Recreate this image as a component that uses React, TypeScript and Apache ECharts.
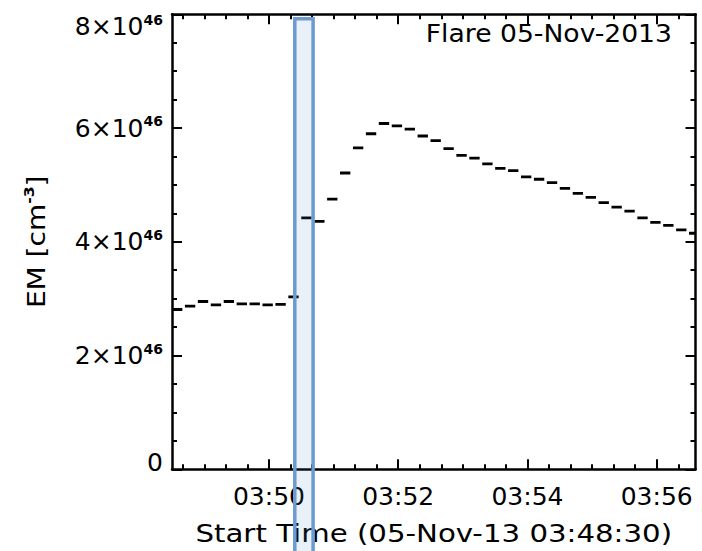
import React, { useEffect, useRef } from "react";
import * as echarts from "echarts";

// ---- data (EM in units of 1e46 cm^-3), one value per 12 s time bin ----
const binStartTimes = [
  "03:48:30", "03:48:42", "03:48:54", "03:49:06", "03:49:18", "03:49:30", "03:49:42", "03:49:54", "03:50:06", "03:50:18",
  "03:50:30", "03:50:42", "03:50:54", "03:51:06", "03:51:18", "03:51:30", "03:51:42", "03:51:54", "03:52:06", "03:52:18",
  "03:52:30", "03:52:42", "03:52:54", "03:53:06", "03:53:18", "03:53:30", "03:53:42", "03:53:54", "03:54:06", "03:54:18",
  "03:54:30", "03:54:42", "03:54:54", "03:55:06", "03:55:18", "03:55:30", "03:55:42", "03:55:54", "03:56:06", "03:56:18",
  "03:56:30",
];
const emValues = [
  2.81, 2.87, 2.95, 2.89, 2.95, 2.91, 2.91, 2.89, 2.90, 3.03,
  4.42, 4.36, 4.75, 5.21, 5.65, 5.90, 6.08, 6.04, 5.98, 5.86,
  5.78, 5.64, 5.52, 5.47, 5.37, 5.29, 5.25, 5.14, 5.10, 5.04,
  4.94, 4.85, 4.78, 4.69, 4.61, 4.54, 4.42, 4.34, 4.29, 4.21,
  4.15,
];
const xRange = ["03:48:30", "03:56:36"];
const xMajorTickLabels = ["03:50", "03:52", "03:54", "03:56"];
const yTickValues = [0, 2, 4, 6, 8];
const yExponent = "46";
const highlightRange = ["03:50:24", "03:50:41"];
const highlightTop = 7.92;
const titleText = "Flare 05-Nov-2013";
const xAxisName = "Start Time (05-Nov-13 03:48:30)";
const yAxisNameRich = "{b|EM [cm}{s|-3}{b|]}";

// ---- helpers / styles ----
const FONT = "DejaVu Sans";
const FS = 25;
const BIN_SEC = 12;
const DASH_SEC = BIN_SEC * 0.8;
const MINOR_STEP = 20;
const W = 702;
const H = 551;
const GRID = { left: 172, right: 6.5, top: 14.3, bottom: 81.7 };

const toSec = (s: string) => {
  const [h, m, sec = "0"] = s.split(":");
  return Number(h) * 3600 + Number(m) * 60 + Number(sec);
};
const pad2 = (n: number) => String(n).padStart(2, "0");
const fmtHM = (v: number) => `${pad2(Math.floor(v / 3600))}:${pad2(Math.floor((v % 3600) / 60))}`;

export default function App() {
  const ref = useRef<HTMLDivElement>(null);

  useEffect(() => {
    if (!ref.current) return;
    const chart = echarts.init(ref.current, undefined, { renderer: "svg" });

    const xMin = toSec(xRange[0]);
    const xMax = toSec(xRange[1]);
    const majors = xMajorTickLabels.map(toSec);
    const minors: number[] = [];
    for (let t = Math.ceil(xMin / MINOR_STEP) * MINOR_STEP; t <= xMax; t += MINOR_STEP) {
      if (!majors.includes(t)) minors.push(t);
    }
    const points = binStartTimes.map((t, i) => [toSec(t), emValues[i]]);

    const lineStyle = { color: "#000", width: 2.5 };
    const tickStyle = { color: "#000", width: 2 };

    const xBase = (position: "top" | "bottom") => ({
      type: "value" as const,
      position,
      min: xMin,
      max: xMax,
      splitLine: { show: false },
    });

    const bRich = { fontSize: FS, lineHeight: 28, fontFamily: FONT, color: "#000" };
    const sRich = { fontSize: 14, lineHeight: 14, fontWeight: "bold" as const, verticalAlign: "top" as const, fontFamily: FONT, color: "#000" };

    const plotCenterX = GRID.left + (W - GRID.left - GRID.right) / 2;
    const plotCenterY = GRID.top + (H - GRID.top - GRID.bottom) / 2;

    chart.setOption({
      animation: false,
      backgroundColor: "#fff",
      grid: { ...GRID, containLabel: false, outerBoundsMode: "none" },
      graphic: [
        {
          type: "text",
          x: W - 30,
          y: 33,
          scaleX: 1.065,
          style: { text: titleText, fontSize: FS, fontFamily: FONT, fill: "#000", align: "right", verticalAlign: "middle" },
        },
        {
          type: "text",
          x: plotCenterX,
          y: 533,
          scaleX: 1.17,
          style: { text: xAxisName, fontSize: FS, fontFamily: FONT, fill: "#000", align: "center", verticalAlign: "middle" },
        },
        {
          type: "text",
          x: 36,
          y: plotCenterY,
          rotation: Math.PI / 2,
          scaleX: 1.12,
          style: {
            text: yAxisNameRich,
            align: "center",
            verticalAlign: "middle",
            rich: {
              b: { fontSize: FS, lineHeight: 28, fontFamily: FONT, fill: "#000" },
              s: { fontSize: 14, lineHeight: 14, fontWeight: "bold", verticalAlign: "top", fontFamily: FONT, fill: "#000" },
            },
          },
        },
      ],
      xAxis: [
        {
          ...xBase("bottom"),
          axisLine: { show: true, onZero: false, lineStyle },
          axisTick: { show: true, inside: true, length: 10, customValues: majors, lineStyle: tickStyle },
          axisLabel: {
            show: true,
            customValues: majors,
            formatter: (v: number) => fmtHM(v),
            fontSize: FS,
            fontFamily: FONT,
            color: "#000",
            margin: 15,
          },
        },
        {
          ...xBase("bottom"),
          axisLine: { show: false, onZero: false },
          axisTick: { show: true, inside: true, length: 5, customValues: minors, lineStyle: tickStyle },
          axisLabel: { show: false },
        },
        {
          ...xBase("top"),
          axisLine: { show: true, onZero: false, lineStyle },
          axisTick: { show: true, inside: true, length: 10, customValues: majors, lineStyle: tickStyle },
          axisLabel: { show: false },
        },
        {
          ...xBase("top"),
          axisLine: { show: false, onZero: false },
          axisTick: { show: true, inside: true, length: 5, customValues: minors, lineStyle: tickStyle },
          axisLabel: { show: false },
        },
      ],
      yAxis: [
        {
          type: "value",
          position: "left",
          min: yTickValues[0],
          max: yTickValues[yTickValues.length - 1],
          interval: yTickValues[1] - yTickValues[0],
          axisLine: { show: true, onZero: false, lineStyle },
          axisTick: { show: true, inside: true, length: 10, lineStyle: tickStyle },
          minorTick: { show: true, splitNumber: 4, length: 5, lineStyle: tickStyle },
          splitLine: { show: false },
          minorSplitLine: { show: false },
          axisLabel: {
            show: true,
            showMinLabel: true,
            showMaxLabel: true,
            margin: 9,
            formatter: (v: number) => {
              if (v === 0) return "{z|0}";
              if (v === yTickValues[yTickValues.length - 1]) return `{g| }\n{b|${v}×10}{s|${yExponent}}`;
              return `{b|${v}×10}{s|${yExponent}}`;
            },
            rich: {
              b: bRich,
              s: sRich,
              g: { fontSize: 10, lineHeight: 25 },
              z: { ...bRich, padding: [0, 0, 14, 0] },
            },
          },
        },
        {
          type: "value",
          position: "right",
          min: yTickValues[0],
          max: yTickValues[yTickValues.length - 1],
          interval: yTickValues[1] - yTickValues[0],
          axisLine: { show: true, onZero: false, lineStyle },
          axisTick: { show: true, inside: true, length: 10, lineStyle: tickStyle },
          minorTick: { show: true, splitNumber: 4, length: 5, lineStyle: tickStyle },
          splitLine: { show: false },
          minorSplitLine: { show: false },
          axisLabel: { show: false },
        },
      ],
      series: [
        {
          type: "custom",
          name: "EM",
          xAxisIndex: 0,
          yAxisIndex: 0,
          clip: true,
          z: 3,
          encode: { x: 0, y: 1 },
          data: points,
          renderItem: (_params: any, api: any) => {
            const t = api.value(0);
            const v = api.value(1);
            const p0 = api.coord([t, v]);
            const p1 = api.coord([t + DASH_SEC, v]);
            return {
              type: "line",
              shape: { x1: p0[0], y1: p0[1], x2: p1[0], y2: p1[1] },
              style: { stroke: "#000", lineWidth: 2.8 },
            };
          },
        },
        {
          type: "custom",
          name: "interval",
          xAxisIndex: 0,
          yAxisIndex: 0,
          clip: false,
          silent: true,
          z: 10,
          data: [[toSec(highlightRange[0]), toSec(highlightRange[1])]],
          renderItem: (_params: any, api: any) => {
            const a = api.coord([api.value(0), highlightTop]);
            const b = api.coord([api.value(1), 0]);
            return {
              type: "rect",
              shape: { x: a[0], y: a[1], width: b[0] - a[0], height: api.getHeight() - a[1] + 20 },
              style: { fill: "rgba(74,134,200,0.12)", stroke: "#6b9bd1", lineWidth: 3.5 },
            };
          },
        },
      ],
    });

    return () => chart.dispose();
  }, []);

  return <div ref={ref} style={{ position: "fixed", left: 0, top: 0, width: W, height: H, background: "#fff" }} />;
}
